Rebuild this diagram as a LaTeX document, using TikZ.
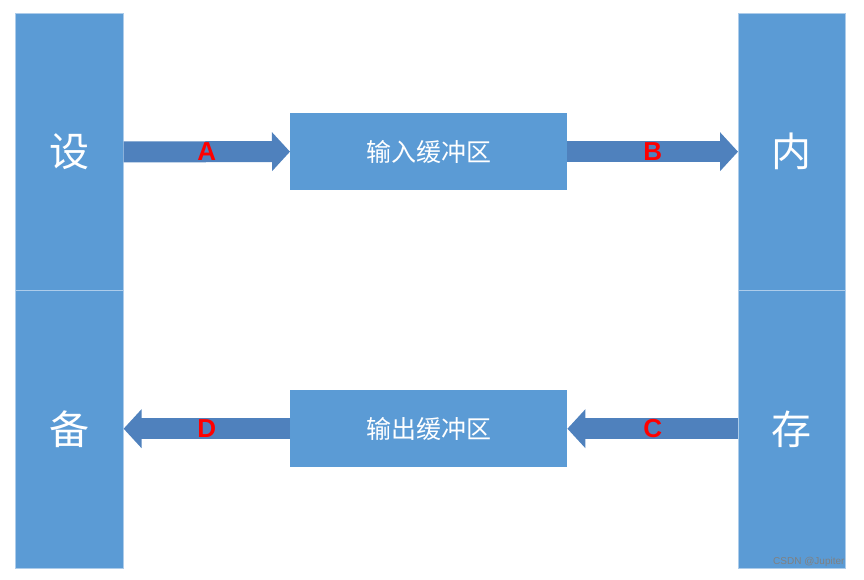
\documentclass[tikz,border=0pt]{standalone}
\usepackage{fontspec}
\setmainfont{Liberation Sans}
\newfontfamily\cjk{Noto Sans CJK SC}
\usetikzlibrary{arrows.meta}
\definecolor{boxblue}{RGB}{91,155,213}
\definecolor{arrowblue}{RGB}{79,129,189}
\definecolor{edgeblue}{RGB}{173,204,234}
\begin{document}
\begin{tikzpicture}[x=1pt,y=-1pt,
  colbox/.style={fill=boxblue,draw=edgeblue,line width=0.6pt,anchor=north west,inner sep=0pt,
    font=\cjk\fontsize{40}{40}\selectfont,text=white},
  bufbox/.style={fill=boxblue,anchor=north west,inner sep=0pt,minimum width=277pt,minimum height=77pt,
    font=\cjk\fontsize{25}{25}\selectfont,text=white},
  flow/.style={arrowblue,line width=21pt,-{Triangle[length=18pt,width=38pt]}},
  tag/.style={text=red,font=\bfseries\fontsize{26}{26}\selectfont}]
\useasboundingbox (0,0) rectangle (864,580);
% device column
\node[colbox,minimum width=108pt,minimum height=277pt] (devtop) at (15,13) {设};
\node[colbox,minimum width=108pt,minimum height=278pt] (devbot) at (15,290) {备};
% memory column
\node[colbox,minimum width=107pt,minimum height=277pt] (memtop) at (738,13) {内};
\node[colbox,minimum width=107pt,minimum height=278pt] (membot) at (738,290) {存};
% buffers
\node[bufbox] (inbuf) at (290,113) {输入缓冲区};
\node[bufbox] (outbuf) at (290,390) {输出缓冲区};
% arrows
\draw[flow] (devtop.east) -- (inbuf.west) node[midway,tag] {A};
\draw[flow] (inbuf.east) -- (inbuf.east -| memtop.west) node[midway,tag] {B};
\draw[flow] (outbuf.east -| membot.west) -- (outbuf.east) node[midway,tag] {C};
\draw[flow] (outbuf.west) -- (outbuf.west -| devbot.east) node[midway,tag] {D};
% watermark
\node[text=gray,font=\fontsize{10}{10}\selectfont,anchor=south east] (mark) at (848,570) {CSDN @Jupiter};
\end{tikzpicture}
\end{document}
